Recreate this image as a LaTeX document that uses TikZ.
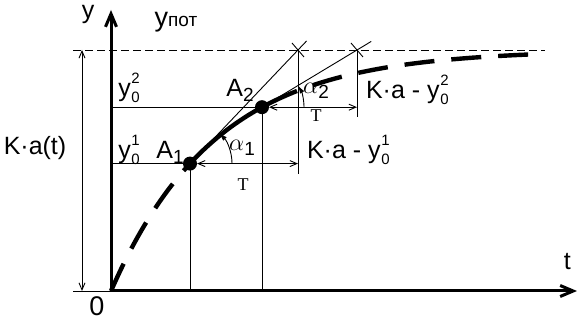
\documentclass[tikz,border=0pt]{standalone}
\usepackage{fontspec}
\setmainfont{Liberation Sans}
\newfontfamily\tfont{Liberation Serif}
\usetikzlibrary{arrows.meta,calc}
\newcommand\supnum{\fontsize{7.5}{8}\selectfont}
\newcommand\yzero[1]{y\kern0.3pt\raisebox{-3.2pt}{\supnum\shortstack[l]{#1\\[1.2pt]0}}}
\newcommand\subidx[1]{\raisebox{-2.5pt}{\fontsize{9.5}{10}\selectfont #1}}
\tikzset{
  thinline/.style={line width=0.45pt},
  dimline/.style={thinline,{Straight Barb[length=3.5pt,width=3pt]}-{Straight Barb[length=3.5pt,width=3pt]}},
  axis/.style={line width=1.5pt,-{Straight Barb[length=6.5pt,width=5.5pt]}},
  curve/.style={line width=2.2pt},
  tlabel/.style={font=\tfont\fontsize{9}{10}\selectfont}
}
\begin{document}
\begin{tikzpicture}[x=0.5pt,y=0.5pt,font=\fontsize{12.5}{14}\selectfont]
  \useasboundingbox (-111,-29) rectangle (466,291);
  \coordinate (O) at (0,0);
  \coordinate (A1) at (79,{241*(1-exp(-79/105))});
  \coordinate (A2) at (151,{241*(1-exp(-151/105))});
  \coordinate (C1) at (187,241);
  \coordinate (C2) at (246,241);
  % asymptote, K a(t)
  \draw [thinline, dash pattern=on 4pt off 2pt] (-38,241) -- (434,241);
  \draw [thinline] (-38,0) -- (O);
  \draw [dimline] (-29,0) -- (-29,241);
  % projections of A1, A2
  \draw [thinline]
    (O |- A1) -- (A1) -- (A1 |- O)
    (O |- A2) -- (A2) -- (A2 |- O)
    (C1) -- ($(C1 |- A1)+(0,-10)$)
    (C2) -- ($(C2 |- A2)+(0,-10)$);
  \draw [dimline, shorten <=3.5pt] (A1) -- (C1 |- A1);
  \draw [dimline, shorten <=3.5pt] (A2) -- (C2 |- A2);
  % tangents
  \draw [thinline]
    (A1) -- ($(A1)!1.08!(C1)$)
    (A2) -- ($(A2)!1.15!(C2)$)
    ($(C1)+(-6,7)$) -- ($(C1)+(6,-7)$)
    ($(C2)+(-6,7)$) -- ($(C2)+(6,-7)$);
  \draw [thinline, -{Latex[length=4pt,width=2.5pt]}]
    ($(A1)+(42,0)$) arc [start angle=0, end angle=46, radius=42];
  \draw [thinline, -{Latex[length=4pt,width=2.5pt]}]
    ($(A2)+(42,0)$) arc [start angle=0, end angle=31, radius=42];
  % curve
  \draw [curve, dash pattern=on 15pt off 8.5pt]
    plot [domain=0:79, samples=25] (\x,{241*(1-exp(-\x/105))});
  \draw [curve]
    plot [domain=79:186, samples=25] (\x,{241*(1-exp(-\x/105))});
  \draw [curve, dash pattern=on 15pt off 8.5pt, dash phase=15pt]
    plot [domain=186:430, samples=40] (\x,{241*(1-exp(-\x/105))});
  % axes
  \draw [axis] (O) -- (0,281);
  \draw [axis] (O) -- (466,0);
  \fill (A1) circle [radius=7];
  \fill (A2) circle [radius=7];
  % labels
  \node (ylab) at (-23,277) {y};
  \node (ypot) at (65,269) {{\fontsize{13.5}{14}\selectfont y}{\fontsize{9.5}{10}\selectfont пот}};
  \node (zero) at (-14,-15) {\fontsize{13.5}{15}\selectfont 0};
  \node [anchor=east] (tlab) at (467,29) {t};
  \node (Kat) at (-76,143) {K·a(t)};
  \node (y2) at (18,203) {\yzero{2}};
  \node (y1) at (18,141) {\yzero{1}};
  \node (A2lab) at (129,201) {A\subidx{2}};
  \node (A1lab) at (59,139) {A\subidx{1}};
  \node (al1) at (131,143) {$\alpha$\subidx{1}};
  \node (al2) at (205,200) {$\alpha$\subidx{2}};
  \node [tlabel] (T1) at (132,106) {T};
  \node [tlabel] (T2) at (205,175) {T};
  \node [anchor=west] (d1) at (189,141) {K·a - \yzero{1}};
  \node [anchor=west] (d2) at (248,201) {K·a - \yzero{2}};
\end{tikzpicture}
\end{document}
